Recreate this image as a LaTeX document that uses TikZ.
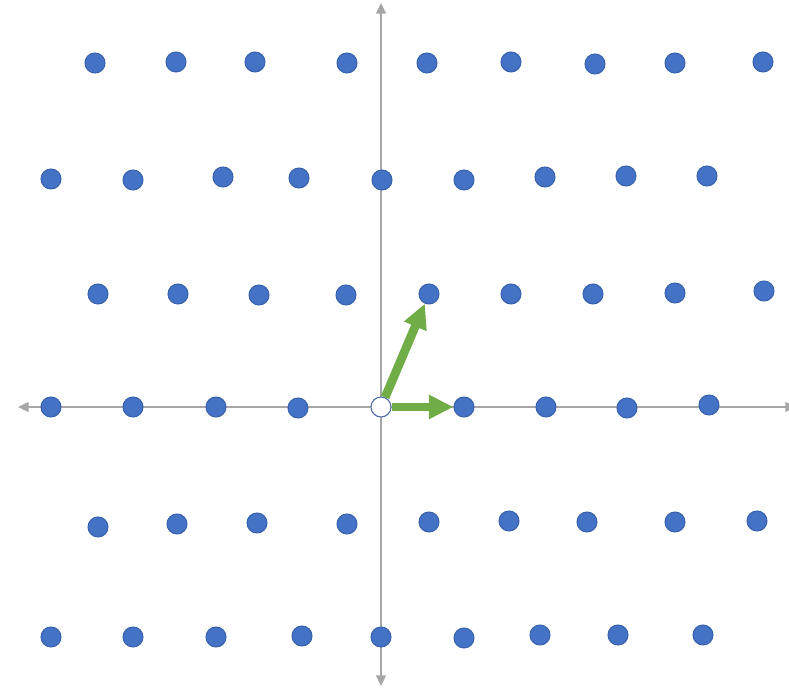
\documentclass[tikz,border=0pt]{standalone}
\usepackage{tikz}
\usetikzlibrary{arrows.meta}
\definecolor{latblue}{HTML}{4472C4}
\definecolor{latedge}{HTML}{3A63AE}
\definecolor{latgreen}{HTML}{70AD47}
\definecolor{latgray}{HTML}{A6A6A6}
\begin{document}
\begin{tikzpicture}[x=0.02cm,y=-0.02cm,line cap=round,line join=round,
  pt/.style={circle,inner sep=0pt,minimum size=20*0.02cm,fill=latblue,draw=latedge,line width=.6pt},
  orig/.style={pt,fill=white,draw=latedge!80!gray},
  axis/.style={latgray,line width=1.1pt,-{Triangle[length=6pt,width=5.5pt]}},
  basis/.style={latgreen,line width=5pt,line cap=butt,-{Triangle[length=14pt,width=13pt]}}]
\path[use as bounding box] (0,0) rectangle (789,688);
\fill[white] (0,0) rectangle (789,688);
% axes
\coordinate (xl) at (18,407);
\coordinate (xr) at (796,407);
\coordinate (yt) at (381,3);
\coordinate (yb) at (381,686);
\coordinate (c) at (381,407);
\draw[axis] (c) -- (xl);
\draw[axis] (c) -- (xr);
\draw[axis] (c) -- (yt);
\draw[axis] (c) -- (yb);
% lattice points
\foreach \px/\py [count=\i] in {95/63,176/62,255/62,347/63,427/63,511/62,595/64,675/63,763/62}
  \node[pt] (a\i) at (\px,\py) {};
\foreach \px/\py [count=\i] in {51/179,133/180,223/177,299/178,382/180,464/180,545/177,626/176,707/176}
  \node[pt] (b\i) at (\px,\py) {};
\foreach \px/\py [count=\i] in {98/294,178/294,259/295,346/295,429/294,511/294,593/294,675/293,764/291}
  \node[pt] (d\i) at (\px,\py) {};
\foreach \px/\py [count=\i] in {51/407,133/407,216/407,298/408}
  \node[pt] (e\i) at (\px,\py) {};
\foreach \px/\py [count=\i from 6] in {464/407,546/407,627/408,709/405}
  \node[pt] (e\i) at (\px,\py) {};
\foreach \px/\py [count=\i] in {98/527,177/524,257/523,347/524,429/522,509/521,587/522,675/522,757/521}
  \node[pt] (f\i) at (\px,\py) {};
\foreach \px/\py [count=\i] in {51/637,133/637,216/637,302/636,381/637,464/638,540/635,618/635,703/635}
  \node[pt] (g\i) at (\px,\py) {};
\node[orig] (o) at (c) {};
% basis vectors
\draw[basis] (o) -- (e6);
\draw[basis] (o) -- (d5);
\end{tikzpicture}
\end{document}
